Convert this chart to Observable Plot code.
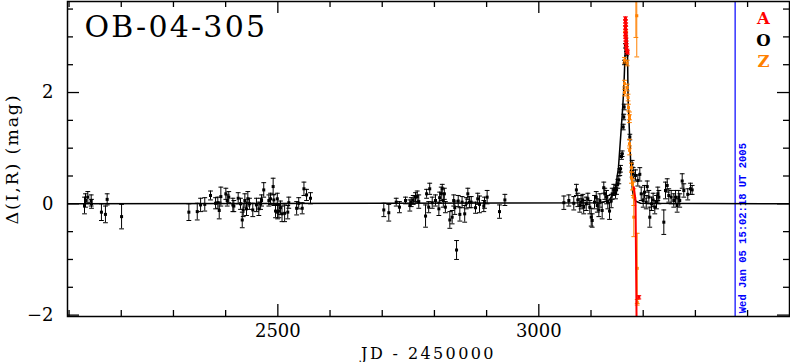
<!DOCTYPE html>
<html><head><meta charset="utf-8">
<script src="https://cdn.jsdelivr.net/npm/d3@7"></script>
<script src="https://cdn.jsdelivr.net/npm/@observablehq/plot@0.6"></script>
<style>html,body{margin:0;padding:0;background:#fff}#chart svg{display:block}</style>
</head><body><div id="chart"></div>
<script>
// ---- text ----
const titleText = "OB-04-305";
const xLabelText = "JD - 2450000";
const yLabelText = "Δ(I,R) (mag)";
const dateText = "Wed Jan 05 15:02:18 UT 2005";
const legendLabels = ["A", "O", "Z"];
const legendColors = ["#ff0000", "#000000", "#ff8000"];

// ---- axes ----
const xDomain = [2097, 3480.3];
const yDomain = [-2.025, 3.636];
const xMajor = [2500, 3000];
const xTickLabels = ["2500", "3000"];
const xMinor = [2100, 2200, 2300, 2400, 2600, 2700, 2800, 2900, 3100, 3200, 3300, 3400];
const yMajor = [-2, 0, 2];
const yTickLabels = ["−2", "0", "2"];
const yMinor = [-1.5, -1, -0.5, 0.5, 1, 1.5, 2.5, 3, 3.5];
const nowJD = 3376.13;

// ---- O (black) data ----
const O_jd = [2129.6,2131.5,2135.9,2142.4,2143.0,2162.0,2169.7,2173.0,2200.6,
2329.5,2345.6,2352.0,2360.0,2371.0,2380.7,2385.0,2387.7,2390.8,2400.4,2403.0,2406.0,2413.8,2415.7,2424.0,2428.5,2431.8,2433.7,2436.8,2440.0,2442.5,2445.8,2452.0,2459.0,2463.6,2467.0,2468.8,2473.0,2482.8,2486.0,2491.0,2492.3,2495.6,2499.0,2499.5,2502.0,2505.0,2508.0,2513.0,2519.0,2521.0,2536.0,2540.0,2546.7,2550.0,2555.0,2562.6,
2703.0,2712.6,2726.8,2733.0,2744.6,2752.9,2755.5,2759.4,2763.8,2767.0,2770.0,2783.0,2785.0,2789.0,2791.0,2795.8,2802.0,2808.5,2810.0,2813.0,2815.0,2817.0,2819.0,2821.0,2829.5,2834.0,2837.0,2839.0,2842.4,2845.6,2848.7,2853.0,2858.0,2861.0,2864.0,2867.0,2870.5,2878.7,2883.0,2886.4,2894.6,2896.0,2901.0,2924.7,2935.0,
3048.0,3057.5,3067.0,3072.0,3074.7,3078.5,3081.0,3084.3,3086.0,3090.8,3094.0,3097.7,3100.4,3102.3,3106.7,3110.0,3112.0,3115.0,3117.0,3121.4,3124.5,3126.4,3129.7,3132.2,3135.5,3138.7,3140.6,3143.7,3147.0,3149.0,3151.4,3153.3,3155.2,3156.5,3158.4,3159.7,3161.7,3162.8,3163.5,3164.2,3166.0,3168.0,3174.4,3178.8,3178.8,3180.8,3185.2,3189.7,3193.5,3196.2,3200.0,3202.5,3205.8,3207.7,3210.8,3212.6,3216.0,3219.0,3222.2,3225.5,3228.0,3230.0,3239.5,3242.7,3246.0,3249.0,3253.6,3258.6,3262.0,3265.0,3268.0,3270.0,3274.7,3277.8,3285.4,3290.6,3293.8];
const O_mag = [-0.03,0.06,0.12,0.06,0.00,-0.15,-0.19,0.08,-0.23,
-0.15,-0.14,-0.02,-0.01,0.15,0.01,0.02,-0.12,0.13,0.18,0.06,0.12,-0.02,-0.04,0.10,0.00,-0.29,-0.11,0.06,-0.09,0.09,0.00,-0.11,-0.02,-0.09,0.00,0.06,0.25,0.06,0.09,0.31,0.07,-0.13,0.09,-0.15,-0.13,-0.07,-0.18,-0.17,-0.15,0.02,-0.08,0.01,-0.08,0.27,0.16,0.10,
-0.11,-0.16,0.03,-0.06,0.06,-0.03,0.03,0.07,0.12,0.13,0.04,-0.22,0.18,-0.06,0.27,0.02,0.06,-0.09,0.11,0.18,0.27,0.06,0.18,-0.06,-0.29,-0.24,0.06,-0.07,-0.83,0.05,-0.19,0.03,-0.18,0.01,0.18,0.03,0.03,-0.07,0.09,-0.01,-0.04,0.02,0.12,-0.14,0.07,
0.02,0.06,0.01,0.25,0.07,-0.03,0.03,0.07,-0.06,0.00,0.09,-0.06,-0.24,-0.30,0.03,0.12,-0.03,-0.11,0.06,-0.12,0.29,0.18,0.12,0.03,-0.13,0.05,0.18,0.25,0.19,0.25,0.36,0.43,0.57,0.63,0.85,0.90,1.38,1.56,1.74,2.54,2.84,2.70,1.20,0.72,0.54,0.55,0.51,0.42,0.53,0.18,0.06,0.21,0.03,0.31,0.12,-0.24,0.00,0.07,-0.06,0.03,0.18,0.12,-0.33,0.24,0.33,0.15,0.12,0.06,0.12,-0.03,0.12,0.06,0.41,0.24,0.17,0.27,0.25];
const O_err = [0.15,0.12,0.10,0.10,0.08,0.15,0.15,0.10,0.22,
0.15,0.15,0.12,0.12,0.08,0.10,0.10,0.15,0.17,0.10,0.10,0.10,0.12,0.10,0.10,0.10,0.14,0.12,0.12,0.12,0.13,0.10,0.12,0.12,0.12,0.10,0.10,0.13,0.10,0.10,0.15,0.10,0.12,0.10,0.12,0.12,0.12,0.14,0.15,0.12,0.10,0.12,0.10,0.10,0.12,0.10,0.10,
0.12,0.15,0.07,0.10,0.06,0.10,0.08,0.08,0.08,0.10,0.12,0.20,0.08,0.10,0.10,0.10,0.10,0.12,0.10,0.12,0.08,0.12,0.10,0.10,0.15,0.12,0.10,0.12,0.17,0.10,0.12,0.10,0.15,0.10,0.10,0.10,0.10,0.10,0.10,0.15,0.10,0.10,0.12,0.12,0.10,
0.12,0.10,0.12,0.10,0.12,0.12,0.12,0.10,0.12,0.12,0.10,0.12,0.16,0.12,0.12,0.10,0.12,0.12,0.12,0.15,0.10,0.10,0.12,0.12,0.15,0.12,0.10,0.10,0.10,0.08,0.08,0.07,0.06,0.06,0.05,0.05,0.05,0.05,0.05,0.04,0.04,0.04,0.05,0.06,0.06,0.10,0.10,0.10,0.12,0.12,0.12,0.12,0.12,0.10,0.12,0.18,0.12,0.12,0.12,0.12,0.12,0.12,0.22,0.15,0.12,0.12,0.12,0.12,0.12,0.12,0.12,0.12,0.13,0.12,0.10,0.10,0.08];

// ---- Z (orange) data ----
const Z_jd  = [3166.0,3166.5,3164.2,3164.2,3164.2,3169.3,3169.5,3171.0,3171.8,3173.7,3173.7,3173.7,3174.0,3177.5,3177.5,3179.5,3181.0,3182.0,3182.0,3188.5,3188.5,3187.7,3186.0];
const Z_mag = [3.15,3.05,2.58,2.16,2.00,2.53,2.09,1.91,1.73,1.58,1.53,1.08,0.96,0.65,0.47,0.35,0.27,0.12,-0.24,-1.16,-1.77,3.38,4.20];
const Z_err = [0.05,0.05,0.05,0.06,0.06,0.05,0.06,0.06,0.06,0.07,0.07,0.08,0.08,0.08,0.10,0.10,0.12,0.15,0.35,0.63,0.05,0.74,1.21];

// ---- A (red) data ----
const A_jd  = [3166.0,3166.0,3166.5,3166.0,3166.5,3166.0,3166.5,3167.0,3167.0,3167.5,3168.0,3169.0,3170.0,3191.6];
const A_mag = [3.33,3.28,3.22,3.17,3.10,3.05,3.00,2.95,2.90,2.85,2.80,2.75,2.72,-1.68];
const A_err = [0.03,0.03,0.03,0.03,0.03,0.03,0.03,0.03,0.03,0.03,0.03,0.03,0.03,0.03];

// ---- model curves ----
const modelO_jd  = [2097,3120,3135,3143,3148,3152.6,3156,3160.3,3163,3166,3168,3170,3171,3172,3174,3176,3177.5,3180,3185,3195,3480.3];
const modelO_mag = [0,0.02,0.07,0.18,0.35,0.65,1.1,1.67,2.1,2.88,3.1,2.7,1.9,1.67,1.2,0.75,0.45,0.2,0.05,0.01,0];
const modelA_jd  = [3182,3185.3,3186.3,3187.5];
const modelA_mag = [0.3,0.06,-1.0,-2.3];

// ---- build tables ----
const rows = (jd, mag, err) => jd.map((j, i) => ({jd: j, mag: mag[i], err: err[i]}));
const O = rows(O_jd, O_mag, O_err);
const Z = rows(Z_jd, Z_mag, Z_err);
const A = rows(A_jd, A_mag, A_err);
const modelO = modelO_jd.map((j, i) => ({jd: j, mag: modelO_mag[i]}));
const modelA = modelA_jd.map((j, i) => ({jd: j, mag: modelA_mag[i]}));

const W = 790, H = 362, mL = 67, mR = 1, mT = 1, mB = 46;
const fW = W - mL - mR, fH = H - mT - mB;
const hline = {draw(ctx, size) { const r = Math.sqrt(size / Math.PI); ctx.moveTo(-r, 0); ctx.lineTo(r, 0); }};

function errMarks(data, color) {
  return [
    Plot.ruleX(data, {x: "jd", y1: d => d.mag - d.err, y2: d => d.mag + d.err, stroke: color, strokeWidth: 1, clip: true}),
    Plot.dot(data, {x: "jd", y: d => d.mag - d.err, symbol: hline, r: 2.4, stroke: color, strokeWidth: 1, clip: true}),
    Plot.dot(data, {x: "jd", y: d => d.mag + d.err, symbol: hline, r: 2.4, stroke: color, strokeWidth: 1, clip: true}),
    Plot.dot(data, {x: "jd", y: "mag", symbol: "square", r: 1.7, fill: color, stroke: null, clip: true})
  ];
}

const serif = "DejaVu Serif";
const chart = Plot.plot({
  width: W, height: H,
  marginLeft: mL, marginRight: mR, marginTop: mT, marginBottom: mB,
  style: {background: "#fff", fontFamily: serif, overflow: "visible"},
  x: {domain: xDomain, label: null},
  y: {domain: yDomain, label: null},
  marks: [
    Plot.ruleX([nowJD], {x: d => d, stroke: "#0000ff", strokeWidth: 1.2}),
    Plot.text([dateText], {x: () => nowJD, text: d => d, frameAnchor: "bottom", dy: -3.3, dx: 7.6, rotate: -90, textAnchor: "start", lineAnchor: "middle", fill: "#0000ff", fontFamily: "Liberation Mono", fontWeight: "bold", fontSize: 10.5}),
    Plot.line(modelO, {x: "jd", y: "mag", stroke: "#000", strokeWidth: 1.5, clip: true}),
    ...errMarks(O, "#000000"),
    ...errMarks(Z, "#ff8000"),
    ...errMarks(A, "#ff0000"),
    Plot.line(modelA, {x: "jd", y: "mag", stroke: "#ff0000", strokeWidth: 2, clip: true}),
    Plot.frame({stroke: "#000", strokeWidth: 1.5}),
    Plot.tickX(xMajor, {x: d => d, insetTop: fH - 12, stroke: "#000", strokeWidth: 1.3}),
    Plot.tickX(xMajor, {x: d => d, insetBottom: fH - 12, stroke: "#000", strokeWidth: 1.3}),
    Plot.tickX(xMinor, {x: d => d, insetTop: fH - 6, stroke: "#000", strokeWidth: 1.3}),
    Plot.tickX(xMinor, {x: d => d, insetBottom: fH - 6, stroke: "#000", strokeWidth: 1.3}),
    Plot.tickY(yMajor, {y: d => d, insetRight: fW - 12, stroke: "#000", strokeWidth: 1.3}),
    Plot.tickY(yMajor, {y: d => d, insetLeft: fW - 12, stroke: "#000", strokeWidth: 1.3}),
    Plot.tickY(yMinor, {y: d => d, insetRight: fW - 6, stroke: "#000", strokeWidth: 1.3}),
    Plot.tickY(yMinor, {y: d => d, insetLeft: fW - 6, stroke: "#000", strokeWidth: 1.3}),
    Plot.axisX(xMajor, {tickSize: 0, tickPadding: 8, fontSize: 18, label: null, tickFormat: d => xTickLabels[xMajor.indexOf(d)]}),
    Plot.axisY(yMajor, {tickSize: 0, tickPadding: 14, fontSize: 18, label: null, tickFormat: d => yTickLabels[yMajor.indexOf(d)]}),
    Plot.text([xLabelText], {text: d => d, frameAnchor: "bottom", dy: 31.5, lineAnchor: "top", fontSize: 16}),
    Plot.text([yLabelText], {text: d => d, frameAnchor: "left", dx: -55, rotate: -90, textAnchor: "middle", lineAnchor: "middle", fontSize: 17.5}),
    Plot.text([titleText], {text: d => d, frameAnchor: "top-left", dx: 17, dy: 14.4, textAnchor: "start", lineAnchor: "top", fontSize: 30}),
    ...legendLabels.map((t, i) => Plot.text([t], {text: d => d, frameAnchor: "top-right", dx: -26, dy: [17.5, 39, 60.4][i], textAnchor: "middle", lineAnchor: "middle", fontSize: 16.5, fontWeight: "bold", fill: legendColors[i]}))
  ]
});
document.getElementById("chart").appendChild(chart);
const spacing = {[titleText]: "2.2px", [xLabelText]: "2.4px", [yLabelText]: "1.8px"};
d3.select(chart).selectAll("text").each(function () {
  const s = spacing[this.textContent];
  if (s) d3.select(this).style("letter-spacing", s);
});
</script></body></html>
